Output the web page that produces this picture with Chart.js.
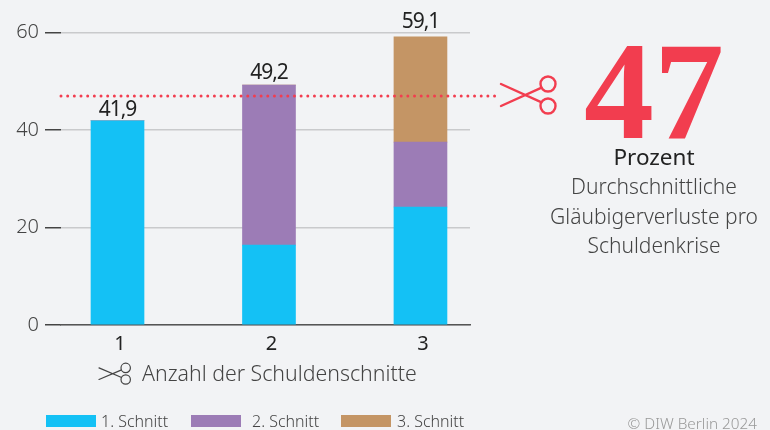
<!DOCTYPE html>
<html><head><meta charset="utf-8">
<style>html,body{margin:0;padding:0;background:#f2f3f5}#w{width:770px;height:430px;position:relative}</style>
<script src="https://cdn.jsdelivr.net/npm/chart.js@4"></script></head>
<body><div id="w"><canvas id="c" width="770" height="430"></canvas></div>
<script>
const categories=[1,2,3];
const cut1=[41.9,16.4,24.2];
const cut2=[0,32.8,13.3];
const cut3=[0,0,21.6];
const totals=['41,9','49,2','59,1'];
const refX=[0.627,3.518];
const refY=[47,47];
const seriesNames=['1. Schnitt','2. Schnitt','3. Schnitt'];
const seriesColors=['#14c1f5','#9c7cb6','#c49565'];
const yTicks=[0,20,40,60];
const headline='47';
const headlineUnit='Prozent';
const note=['Durchschnittliche','Gläubigerverluste pro','Schuldenkrise'];
const credit='© DIW Berlin 2024';
const FF='"Noto Sans"';
const RED='#f23d4f';

function scissors(ctx,x,y,w,h,r,color,lw){
  const ex=w-r*1.0;
  ctx.save();ctx.translate(x,y);
  ctx.strokeStyle=color;ctx.lineWidth=lw;ctx.lineCap='round';
  ctx.beginPath();ctx.moveTo(0,-h);ctx.lineTo(ex,h*0.62);ctx.moveTo(0,h);ctx.lineTo(ex,-h*0.62);ctx.stroke();
  ctx.beginPath();ctx.arc(w,-h,r,0,Math.PI*2);ctx.stroke();
  ctx.beginPath();ctx.arc(w,h,r,0,Math.PI*2);ctx.stroke();
  ctx.restore();
}
const labelLift=[5,6.5,8.7];
const deco={id:'deco',afterDatasetsDraw(ch){
  const ctx=ch.ctx,xs=ch.scales.x,ys=ch.scales.y;
  ctx.save();
  ctx.textAlign='center';ctx.textBaseline='alphabetic';
  ctx.fillStyle='#222';ctx.font='21px '+FF;ctx.letterSpacing='-1px';
  categories.forEach((c,i)=>{
    const top=cut1[i]+cut2[i]+cut3[i];
    ctx.fillText(totals[i],xs.getPixelForValue(c),ys.getPixelForValue(top)-labelLift[i]);
  });
  ctx.letterSpacing='0px';
  ctx.fillStyle=RED;ctx.font='bold 140px "Liberation Serif"';
  ctx.fillText(headline,654,138);
  ctx.fillStyle='#222';ctx.font='22.5px '+FF;
  ctx.fillText(headlineUnit,654,165);
  ctx.fillStyle='#444';ctx.font='300 21px '+FF;
  note.forEach((t,i)=>ctx.fillText(t,654,194+i*29.5));
  const boxX=[46,191,341],textX=[101,252,397];
  ctx.textAlign='left';ctx.font='300 16px '+FF;
  seriesNames.forEach((n,i)=>{
    ctx.fillStyle=seriesColors[i];ctx.fillRect(boxX[i],415,50,12);
    ctx.fillStyle='#444';ctx.fillText(n,textX[i],427);
  });
  ctx.textAlign='right';ctx.fillStyle='#999';ctx.font='300 15.3px '+FF;
  ctx.fillText(credit,757,429);
  ctx.restore();
  scissors(ctx,501,95,47,11,7.5,RED,2.4);
  scissors(ctx,99,373.7,26.7,5.8,4.7,'#444',1.2);
}};
new Chart(document.getElementById('c'),{
  type:'bar',
  plugins:[deco],
  data:{datasets:[
    {label:seriesNames[0],data:categories.map((c,i)=>({x:c,y:cut1[i]})),backgroundColor:seriesColors[0],stack:'s',barThickness:53,order:2},
    {label:seriesNames[1],data:categories.map((c,i)=>({x:c,y:cut2[i]})),backgroundColor:seriesColors[1],stack:'s',barThickness:53,order:2},
    {label:seriesNames[2],data:categories.map((c,i)=>({x:c,y:cut3[i]})),backgroundColor:seriesColors[2],stack:'s',barThickness:53,order:2},
    {type:'line',label:'Durchschnitt',data:refX.map((x,i)=>({x,y:refY[i]})),stack:'r',borderColor:RED,borderWidth:3,borderDash:[0,6.67],borderCapStyle:'round',pointRadius:0,clip:false,order:1}
  ]},
  options:{
    responsive:false,animation:false,
    layout:{padding:{left:0,right:300,top:32.5,bottom:0}},
    plugins:{tooltip:{enabled:false},legend:{display:false}},
    scales:{
      x:{type:'linear',min:0.627,max:3.327,bounds:'data',offset:false,
        afterFit(s){s.height=105},
        afterBuildTicks(s){s.ticks=categories.map(v=>({value:v}))},
        grid:{display:false},
        border:{color:'#555',width:1.5},
        ticks:{padding:-1,labelOffset:2.5,color:'#222',font:{family:FF,size:20},maxRotation:0,autoSkip:false,callback:v=>String(v)},
        title:{display:true,text:'     Anzahl der Schuldenschnitte',color:'#444',font:{family:FF,size:21.3,weight:'300'},padding:{top:0,bottom:42}}
      },
      y:{stacked:true,min:0,max:60,
        afterFit(s){s.width=61},
        afterBuildTicks(s){s.ticks=yTicks.map(v=>({value:v}))},
        grid:{color:'#c9cacc',tickColor:'#444',tickLength:16,lineWidth:1.5},
        border:{display:false},
        ticks:{padding:6,color:'#444',font:{family:FF,size:20,weight:'300'}}
      }
    }
  }
});
</script></body></html>
